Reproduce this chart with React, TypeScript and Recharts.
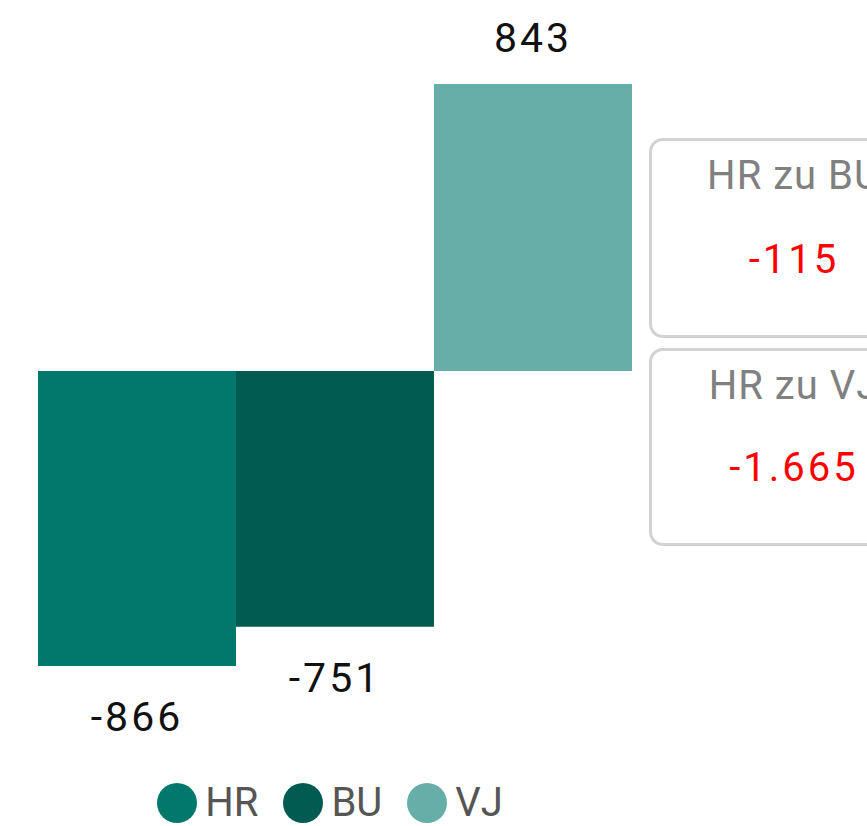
import React from "react";
import { BarChart, Bar, YAxis, XAxis, LabelList, Legend } from "recharts";

const categories = ["Gesamt"];
const seriesNames = ["HR", "BU", "VJ"];
const hrValues = [-866];
const buValues = [-751];
const vjValues = [843];
const seriesColors = ["#01786B", "#025B51", "#67AEA8"];
const cardTitles = ["HR zu BU", "HR zu VJ"];
const cardValues = ["-115", "-1.665"];
const yDomain = [-866, 843];

const data = categories.map((c, i) => ({
  name: c,
  HR: hrValues[i],
  BU: buValues[i],
  VJ: vjValues[i],
}));

const FONT = "Roboto, 'DejaVu Sans', sans-serif";

const ValueLabel = (props: any) => {
  const { x, y, width, height, value } = props;
  const top = Math.min(y, y + height);
  const bottom = Math.max(y, y + height);
  const cx = x + width / 2;
  const ty = value >= 0 ? top - 46 : bottom + 51;
  return (
    <text
      x={cx}
      y={ty}
      textAnchor="middle"
      dominantBaseline="central"
      fontFamily={FONT}
      fontSize={41}
      letterSpacing={3}
      fill="#111"
    >
      {value}
    </text>
  );
};

const LegendContent = () => (
  <div
    style={{
      display: "flex",
      justifyContent: "center",
      alignItems: "center",
      fontFamily: FONT,
      fontSize: 40,
      color: "#555",
      height: 40,
    }}
  >
    {seriesNames.map((n, i) => (
      <div key={n} style={{ display: "flex", alignItems: "center", marginRight: i < 2 ? 25 : 0 }}>
        <div
          style={{
            width: 40,
            height: 40,
            borderRadius: 20,
            background: seriesColors[i],
            marginRight: 8,
          }}
        />
        <span style={{ lineHeight: "40px" }}>{n}</span>
      </div>
    ))}
  </div>
);

export default function App() {
  return (
    <div
      style={{
        position: "absolute",
        left: 0,
        top: 0,
        width: 867,
        height: 826,
        overflow: "hidden",
        background: "#fff",
      }}
    >
      <BarChart
        width={867}
        height={826}
        data={data}
        margin={{ top: 84, bottom: 120, left: 38, right: 235 }}
        barCategoryGap={0}
        barGap={0}
      >
        <XAxis dataKey="name" hide />
        <YAxis hide domain={yDomain} />
        <Legend
          content={<LegendContent />}
          wrapperStyle={{ position: "absolute", left: 0, width: 660, top: 783, height: 40 }}
        />
        {seriesNames.map((n, i) => (
          <Bar key={n} dataKey={n} fill={seriesColors[i]} isAnimationActive={false}>
            <LabelList dataKey={n} content={<ValueLabel />} />
          </Bar>
        ))}
      </BarChart>
      {cardTitles.map((t, i) => (
        <div
          key={t}
          style={{
            position: "absolute",
            left: 649,
            top: i === 0 ? 138 : 348,
            width: 290,
            height: i === 0 ? 200 : 198,
            boxSizing: "border-box",
            border: "3px solid #d2d2d2",
            borderRadius: 14,
            fontFamily: FONT,
            textAlign: "center",
          }}
        >
          <div
            style={{
              position: "absolute",
              left: 0,
              right: 0,
              top: 13,
              fontSize: 40,
              color: "#808080",
              letterSpacing: 1,
              lineHeight: "44px",
            }}
          >
            {t}
          </div>
          <div
            style={{
              position: "absolute",
              left: 0,
              right: 0,
              top: i === 0 ? 97 : 95,
              fontSize: 40,
              color: "#ff0000",
              letterSpacing: 3,
              lineHeight: "44px",
            }}
          >
            {cardValues[i]}
          </div>
        </div>
      ))}
    </div>
  );
}
